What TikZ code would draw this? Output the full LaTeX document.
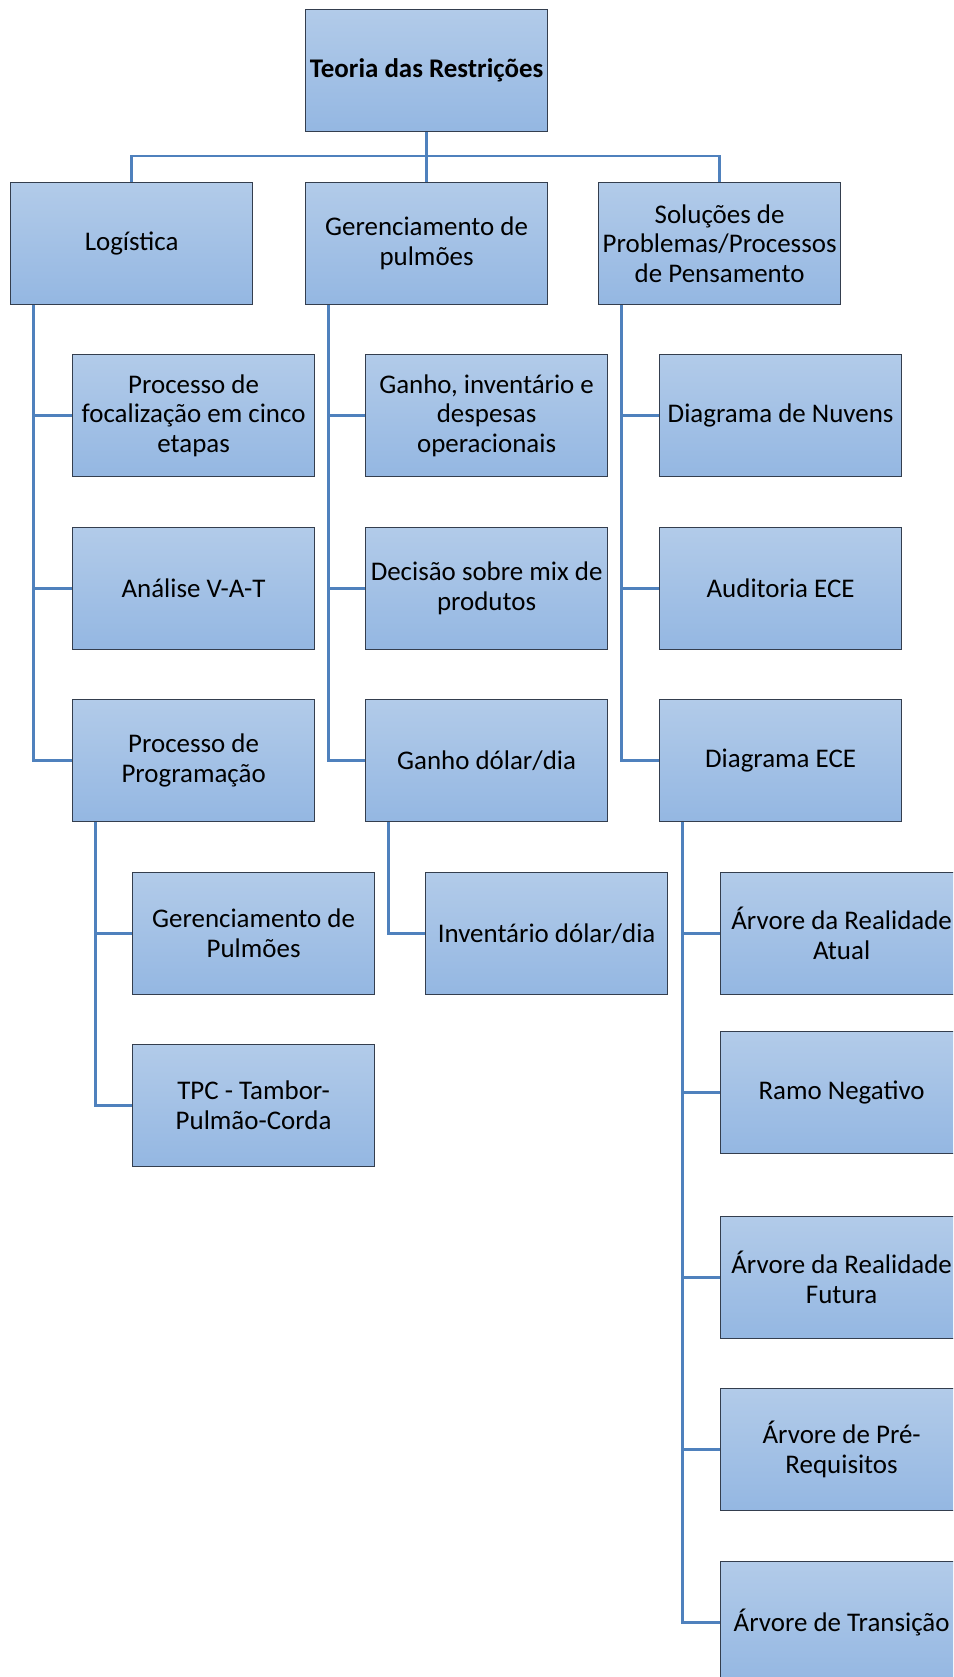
\documentclass[tikz,border=0pt]{standalone}
\usepackage{fontspec}
\setmainfont{Carlito}
\definecolor{boxtop}{RGB}{178,203,233}
\definecolor{boxbot}{RGB}{148,183,226}
\definecolor{boxborder}{RGB}{52,62,78}
\definecolor{connc}{RGB}{79,129,189}
\tikzset{
  box/.style={draw=boxborder, line width=0.9pt, top color=boxtop, bottom color=boxbot,
    minimum width=181.5pt, minimum height=91.5pt, inner sep=0pt, align=center,
    anchor=north west, font=\fontsize{20.2}{22.3}\selectfont},
  conn/.style={draw=connc, line width=1.75pt}
}
\begin{document}
\begin{tikzpicture}[x=0.75pt,y=-0.75pt]
\useasboundingbox (0,0) rectangle (953,1677);
\clip (0,0) rectangle (953,1677);
% level 1
\node[box, font=\fontsize{20.2}{22.3}\selectfont\bfseries] (top) at (305,9) {Teoria das Restrições};
% level 2
\node[box] (log) at (10,182) {Logística};
\node[box] (ger) at (305,182) {Gerenciamento de\\pulmões};
\node[box] (sol) at (598,182) {Soluções de\\Problemas/Processos\\de Pensamento};
% level 3
\node[box] (l1) at (72,354) {Processo de\\focalização em cinco\\etapas};
\node[box] (l2) at (72,527) {Análise V-A-T};
\node[box] (l3) at (72,699) {Processo de\\Programação};
\node[box] (g1) at (365,354) {Ganho, inventário e\\despesas\\operacionais};
\node[box] (g2) at (365,527) {Decisão sobre mix de\\produtos};
\node[box] (g3) at (365,699) {Ganho dólar/dia};
\node[box] (s1) at (659,354) {Diagrama de Nuvens};
\node[box] (s2) at (659,527) {Auditoria ECE};
\node[box] (s3) at (659,699) {Diagrama ECE};
% level 4
\node[box] (l31) at (132,872) {Gerenciamento de\\Pulmões};
\node[box] (l32) at (132,1044) {TPC - Tambor-\\Pulmão-Corda};
\node[box] (g31) at (425,872) {Inventário dólar/dia};
\node[box] (s31) at (720,872) {Árvore da Realidade\\Atual};
\node[box] (s32) at (720,1031) {Ramo Negativo};
\node[box] (s33) at (720,1216) {Árvore da Realidade\\Futura};
\node[box] (s34) at (720,1388) {Árvore de Pré-\\Requisitos};
\node[box] (s35) at (720,1561) {Árvore de Transição};
% bus
\coordinate (busy) at (426,156);
\draw[conn] (top.south) -- (top.south |- busy);
\draw[conn] (log.north) -- (log.north |- busy) -- (sol.north |- busy) -- (sol.north);
\draw[conn] (ger.north) -- (ger.north |- busy);
% trunks
\coordinate (tlog) at ([xshift=17.6pt]log.south west);
\coordinate (tger) at ([xshift=17.6pt]ger.south west);
\coordinate (tsol) at ([xshift=17.6pt]sol.south west);
\coordinate (tl3) at ([xshift=17.6pt]l3.south west);
\coordinate (tg3) at ([xshift=17.6pt]g3.south west);
\coordinate (ts3) at ([xshift=17.6pt]s3.south west);
\draw[conn] (tlog) |- (l3.west);
\draw[conn] (tlog |- l1.west) -- (l1.west);
\draw[conn] (tlog |- l2.west) -- (l2.west);
\draw[conn] (tger) |- (g3.west);
\draw[conn] (tger |- g1.west) -- (g1.west);
\draw[conn] (tger |- g2.west) -- (g2.west);
\draw[conn] (tsol) |- (s3.west);
\draw[conn] (tsol |- s1.west) -- (s1.west);
\draw[conn] (tsol |- s2.west) -- (s2.west);
\draw[conn] (tl3) |- (l32.west);
\draw[conn] (tl3 |- l31.west) -- (l31.west);
\draw[conn] (tg3) |- (g31.west);
\draw[conn] (ts3) |- (s35.west);
\draw[conn] (ts3 |- s31.west) -- (s31.west);
\draw[conn] (ts3 |- s32.west) -- (s32.west);
\draw[conn] (ts3 |- s33.west) -- (s33.west);
\draw[conn] (ts3 |- s34.west) -- (s34.west);
\end{tikzpicture}
\end{document}
